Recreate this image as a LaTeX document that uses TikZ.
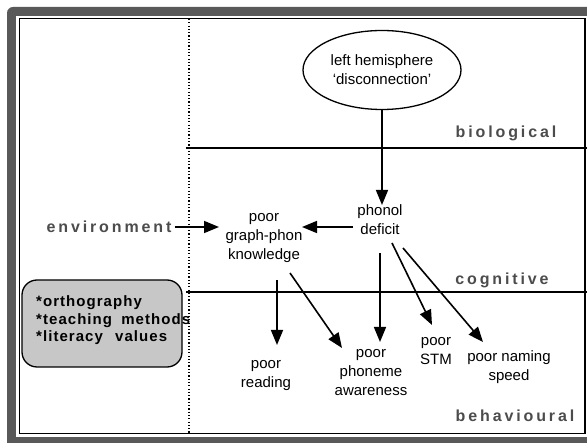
\documentclass[tikz,border=0pt]{standalone}
\usepackage{fontspec}
\setmainfont{Liberation Sans}
\newfontfamily\layerfont[LetterSpace=18]{Liberation Sans}
\newfontfamily\factorfont[LetterSpace=7]{Liberation Sans}
\usetikzlibrary{arrows.meta,calc,shapes.geometric}
\tikzset{
  txt/.style={align=center, inner sep=0pt, font=\fontsize{15}{19}\selectfont},
  layer/.style={inner sep=0pt, text=black!70, font=\fontsize{16}{18}\layerfont\bfseries},
  arr/.style={-{Triangle[length=15pt,width=12pt]}, line width=1.6pt},
  band/.style={line width=1.5pt},
}

\begin{document}
\begin{tikzpicture}[x=1pt,y=-1pt]

      % frame, then the three levels:
      %   biological | cognitive | behavioural
      \useasboundingbox (0,0) rectangle (587,443);
      \clip (0,0) rectangle (587,443);
      \fill[black!65, rounded corners=6pt] (7,7) rectangle (620,460);
      \fill[white] (16,16) rectangle (620,437);
      \draw[band] (19.5,18.5) rectangle (585,433.5);
      \draw[line width=1.2pt, dash pattern=on 1.2pt off 2.1pt] (189,19) -- (189,433);
      \draw[band] (186,148) -- (590,148);
      \draw[band] (186,292) -- (590,292);

      \node[layer] (bio) at (506,133) {biological};
      \node[layer] (cog) at (502,280) {cognitive};
      \node[layer] (beh) at (515,416) {behavioural};
      \node[layer] (env) at (109,227) {environment};

      \node[draw, ellipse, line width=1.3pt, minimum width=158pt, minimum height=79pt, txt] (hemi) at (382,70) {left hemisphere\\‘disconnection’};
      \node[txt] (phon) at (380,220) {phonol\\deficit};
      \node[txt] (know) at (264,238) {poor\\graph-phon\\knowledge};
      \node[txt] (read) at (266,376) {poor\\reading};
      \node[txt] (phonaw) at (371,373) {poor\\phoneme\\awareness};
      \node[txt] (stm) at (436,351.5) {poor\\STM};
      \node[txt] (nam) at (509,367) {poor naming\\speed};

      \node[draw, fill=black!22, rounded corners=15pt, line width=1.3pt, minimum width=160pt, minimum height=87pt, inner sep=0pt] (factbox) at (102,323.5) {};
      \node[anchor=west, align=left, inner sep=0pt, font=\fontsize{15}{17.5}\factorfont\bfseries] (factors) at (36,320.5) {*orthography\\*teaching\hspace{4pt} methods\\*literacy\hspace{7pt} values};

      \draw[arr] (hemi.south) -- ($(phon)+(2,-15)$);
      \draw[arr] ($(env.east)+(3,0)$) -- ($(know)+(-45,-11)$);
      \draw[arr] ($(phon)+(-27,7)$) -- ($(know)+(38,-11)$);
      \draw[arr] ($(know)+(13,42)$) -- ($(read)+(11,-31)$);
      \draw[arr] ($(know)+(26,35)$) -- ($(phonaw)+(-29,-25)$);
      \draw[arr] ($(phon)+(0,33)$) -- ($(phonaw)+(9,-31)$);
      \draw[arr] ($(phon)+(12,23)$) -- ($(stm)+(-4,-26.5)$);
      \draw[arr] ($(phon)+(23,28)$) -- ($(nam)+(-26,-25)$);

    \end{tikzpicture}
\end{document}
